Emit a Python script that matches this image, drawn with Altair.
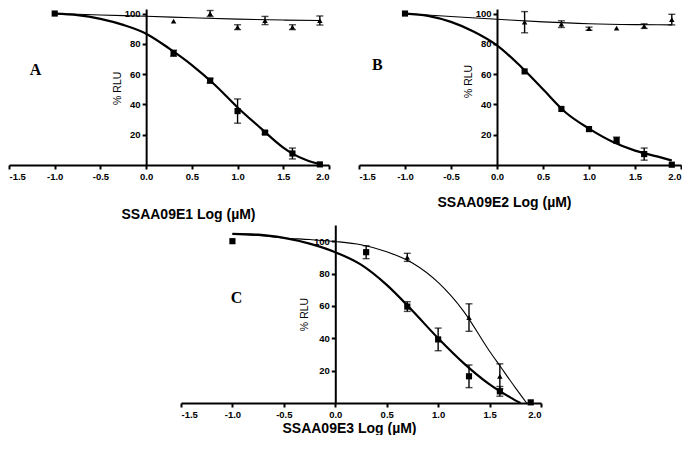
import altair as alt
import pandas as pd

# ---------------- data ----------------
X_TICKS = [-1.5, -1.0, -0.5, 0.0, 0.5, 1.0, 1.5, 2.0]
Y_TICKS = [20, 40, 60, 80, 100]

# Panel A
A_sq_x = [-1.0, 0.3, 0.7, 1.0, 1.3, 1.6, 1.9]
A_sq_y = [100, 73.8, 55.7, 35.6, 21.4, 7.6, 0.4]
A_sq_e = [0, 2.0, 1.5, 8.0, 1.0, 3.6, 0.8]
A_tr_x = [0.3, 0.7, 1.0, 1.3, 1.6, 1.9]
A_tr_y = [95, 100, 91, 95.4, 91, 95.4]
A_tr_e = [0.5, 2.0, 1.6, 2.7, 1.6, 3.0]
A_fit_sq_x = [-1.0, -0.75, -0.5, -0.25, 0.0, 0.25, 0.5, 0.75, 1.0, 1.25, 1.5, 1.6, 1.75, 1.9]
A_fit_sq_y = [100, 99, 96.5, 92.5, 86.7, 77, 66, 53, 38, 24.5, 11.5, 7.5, 3.3, 0.5]
A_fit_tr_x = [-1.0, -0.5, 0.0, 0.5, 1.0, 1.5, 1.9]
A_fit_tr_y = [100, 99, 98.2, 97.2, 96.3, 95.7, 95.4]

# Panel B
B_sq_x = [-1.0, 0.3, 0.7, 1.0, 1.3, 1.6, 1.9]
B_sq_y = [100, 61.8, 37, 23.7, 16.4, 7.2, 0.2]
B_sq_e = [0, 0.5, 0.5, 0.5, 2.0, 4.0, 0.5]
B_tr_x = [0.3, 0.7, 1.0, 1.3, 1.6, 1.9]
B_tr_y = [94.3, 93, 90, 90.4, 91.7, 96]
B_tr_e = [7.0, 2.2, 1.0, 0.5, 1.5, 3.5]
B_fit_sq_x = [-1.0, -0.75, -0.5, -0.25, 0.0, 0.25, 0.5, 0.75, 1.0, 1.25, 1.5, 1.75, 1.9]
B_fit_sq_y = [100, 98.5, 94.5, 88, 79, 65.5, 50, 34.5, 24, 15.5, 9.5, 5.5, 3]
B_fit_tr_x = [-1.0, -0.5, 0.0, 0.5, 1.0, 1.5, 1.9]
B_fit_tr_y = [100, 98, 96.2, 94.5, 93.3, 92.7, 92.5]

# Panel C
C_sq_x = [-1.0, 0.3, 0.7, 1.0, 1.3, 1.6, 1.9]
C_sq_y = [100, 93.2, 59.6, 39.3, 16.5, 7.2, 0.4]
C_sq_e = [0, 4.0, 3.0, 7.0, 7.0, 3.0, 0.5]
C_tr_x = [0.7, 1.3, 1.6, 1.9]
C_tr_y = [90, 52.8, 16.5, 0.4]
C_tr_e = [2.5, 8.5, 7.7, 0]
C_fit_sq_x = [-1.0, -0.75, -0.5, -0.25, 0.0, 0.25, 0.5, 0.75, 1.0, 1.25, 1.5, 1.7, 1.8]
C_fit_sq_y = [104.5, 104, 102, 98.5, 93.2, 85.5, 73, 57, 40, 24.5, 11.5, 3.5, 0]
C_fit_tr_x = [-1.0, -0.75, -0.5, -0.25, 0.0, 0.25, 0.5, 0.75, 1.0, 1.25, 1.5, 1.6, 1.75, 1.86]
C_fit_tr_y = [104.5, 103.5, 102, 101, 99.8, 97.8, 93.5, 86.5, 74.5, 56.5, 32, 23, 9.5, 0]

FONT = "Liberation Sans"


def panel(sq, tr, fit_sq, fit_tr, letter, letter_pos, title, W, H, ymax,
          title_x, title_y, rlu_x, rlu_y):
    sq_x, sq_y, sq_e = sq
    tr_x, tr_y, tr_e = tr
    xs = alt.Scale(domain=[-1.5, 2.0], nice=False, zero=False)
    ys = alt.Scale(domain=[0, ymax], nice=False, zero=False)
    x_axis = alt.Axis(
        values=X_TICKS,
        labelExpr="(datum.value < 0 ? '-' : '') + format(abs(datum.value), '.1f')",
        title=title, titleX=title_x, titleY=title_y, titleBaseline="middle",
        titleAlign="center", titleFontSize=14, titleFontWeight="bold",
        labelFontSize=9.5, labelFontWeight="bold", labelPadding=2,
        tickSize=4, tickWidth=2, domainWidth=2, grid=False,
    )
    y_axis = alt.Axis(
        values=Y_TICKS, offset=-W * 1.5 / 3.5,
        title="% RLU", titleX=rlu_x, titleY=rlu_y, titleBaseline="middle",
        titleAlign="center", titleAngle=270, titleFontSize=10.5,
        titleFontWeight="normal",
        labelFontSize=9.5, labelFontWeight="bold", labelPadding=2,
        tickSize=4, tickWidth=2, domainWidth=2, grid=False,
    )
    X = alt.X("x:Q", scale=xs, axis=x_axis)
    Y = alt.Y("y:Q", scale=ys, axis=y_axis)

    d_fsq = pd.DataFrame({"x": fit_sq[0], "y": fit_sq[1]})
    d_ftr = pd.DataFrame({"x": fit_tr[0], "y": fit_tr[1]})
    d_sq = pd.DataFrame({"x": sq_x, "y": sq_y})
    d_tr = pd.DataFrame({"x": tr_x, "y": tr_y})
    err_rows = []
    cap_rows = []
    for xx, yy, ee in list(zip(sq_x, sq_y, sq_e)) + list(zip(tr_x, tr_y, tr_e)):
        if ee > 0.9:
            err_rows.append({"x": xx, "y": yy - ee, "y2": yy + ee})
            cap_rows.append({"x": xx, "y": yy - ee})
            cap_rows.append({"x": xx, "y": yy + ee})
    d_err = pd.DataFrame(err_rows)
    d_cap = pd.DataFrame(cap_rows)
    d_let = pd.DataFrame({"x": [letter_pos[0]], "y": [letter_pos[1]], "t": [letter]})

    base_line_tr = alt.Chart(d_ftr).mark_line(
        color="black", strokeWidth=1.1, interpolate="monotone").encode(x=X, y=Y)
    base_line_sq = alt.Chart(d_fsq).mark_line(
        color="black", strokeWidth=2.2, interpolate="monotone").encode(x=X, y=Y)
    err = alt.Chart(d_err).mark_rule(color="black", strokeWidth=1.4).encode(
        x=X, y=Y, y2="y2:Q")
    caps = alt.Chart(d_cap).mark_tick(
        color="black", orient="horizontal", size=7, thickness=1.4).encode(x=X, y=Y)
    tri = alt.Chart(d_tr).mark_point(
        shape="triangle-up", filled=True, color="black", opacity=1, size=30).encode(x=X, y=Y)
    sqr = alt.Chart(d_sq).mark_point(
        shape="square", filled=True, color="black", opacity=1, size=38).encode(x=X, y=Y)
    let = alt.Chart(d_let).mark_text(
        font="Liberation Serif", fontSize=16, fontWeight="bold", color="black",
        align="center", baseline="middle").encode(x=X, y=Y, text="t:N")

    return alt.layer(base_line_tr, base_line_sq, err, caps, tri, sqr, let).properties(
        width=W, height=H)


W_A, W_B, H_AB, YMAX_AB = 320, 322, 156, 103
W_C, H_C, YMAX_C = 360, 178, 110

pA = panel((A_sq_x, A_sq_y, A_sq_e), (A_tr_x, A_tr_y, A_tr_e),
           (A_fit_sq_x, A_fit_sq_y), (A_fit_tr_x, A_fit_tr_y),
           "A", (-1.21, 63), "SSAA09E1 Log (µM)", W_A, H_AB, YMAX_AB,
           179, 49, -29, H_AB - 51 * H_AB / YMAX_AB)
pB = panel((B_sq_x, B_sq_y, B_sq_e), (B_tr_x, B_tr_y, B_tr_e),
           (B_fit_sq_x, B_fit_sq_y), (B_fit_tr_x, B_fit_tr_y),
           "B", (-1.3, 66), "SSAA09E2 Log (µM)", W_B, H_AB, YMAX_AB,
           145, 37, -29, H_AB - 55.5 * H_AB / YMAX_AB)
pC = panel((C_sq_x, C_sq_y, C_sq_e), (C_tr_x, C_tr_y, C_tr_e),
           (C_fit_sq_x, C_fit_sq_y), (C_fit_tr_x, C_fit_tr_y),
           "C", (-0.96, 65), "SSAA09E3 Log (µM)", W_C, H_C, YMAX_C,
           168, 25, -31, H_C - 55 * H_C / YMAX_C)

spacer = alt.Chart(pd.DataFrame({"x": [0], "y": [0]})).mark_point(opacity=0).encode(
    x=alt.X("x:Q", axis=None), y=alt.Y("y:Q", axis=None)).properties(width=172, height=H_C)

top = alt.hconcat(pA, pB, spacing=30, bounds="flush")
bottom = alt.hconcat(spacer, pC, spacing=0, bounds="flush")

chart = alt.vconcat(top, bottom, spacing=4).properties(
    padding=0, background="white"
).configure_view(stroke=None).configure_axis(
    labelFont=FONT, titleFont=FONT, labelColor="black", titleColor="black",
    domainColor="black", tickColor="black"
)

chart.save("out.html", embed_options={"renderer": "svg", "actions": False})
